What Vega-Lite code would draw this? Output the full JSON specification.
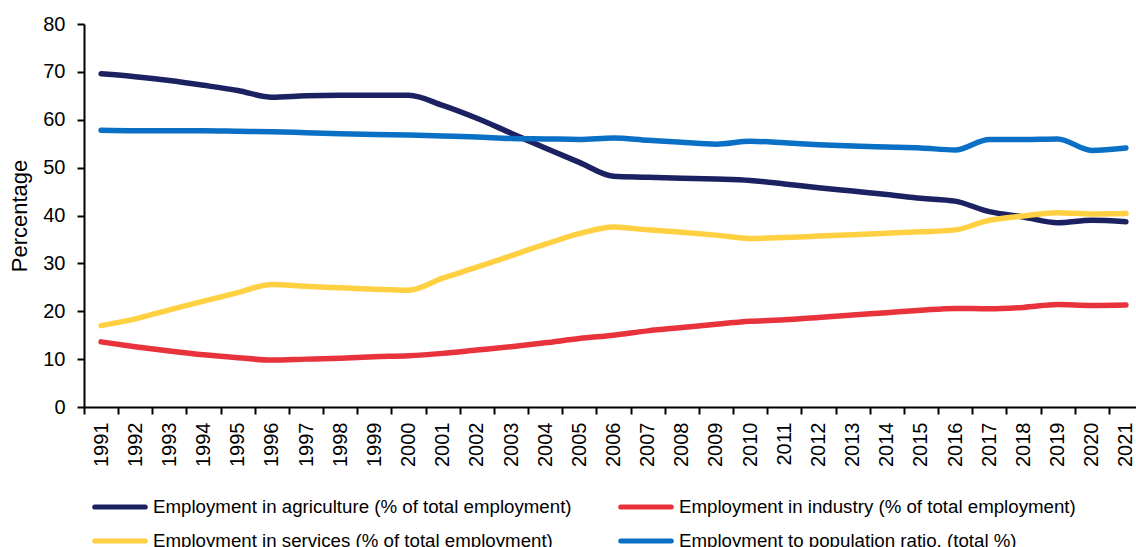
{
  "$schema": "https://vega.github.io/schema/vega-lite/v6.json",
  "autosize": "none",
  "width": 1059,
  "height": 383,
  "padding": {"left": 84, "top": 24, "right": 0, "bottom": 140},
  "background": "white",
  "config": {
    "view": {"stroke": null},
    "font": "Liberation Sans"
  },
  "data": {
    "values": [
      {"year": "1991", "a": 69.6, "i": 13.6, "s": 17.0, "r": 57.8},
      {"year": "1992", "a": 69.0, "i": 12.6, "s": 18.4, "r": 57.7},
      {"year": "1993", "a": 68.2, "i": 11.7, "s": 20.3, "r": 57.7},
      {"year": "1994", "a": 67.2, "i": 10.9, "s": 22.1, "r": 57.7},
      {"year": "1995", "a": 66.1, "i": 10.3, "s": 23.9, "r": 57.6},
      {"year": "1996", "a": 64.7, "i": 9.8, "s": 25.6, "r": 57.5},
      {"year": "1997", "a": 65.0, "i": 10.0, "s": 25.2, "r": 57.3},
      {"year": "1998", "a": 65.1, "i": 10.2, "s": 24.9, "r": 57.1},
      {"year": "1999", "a": 65.1, "i": 10.5, "s": 24.6, "r": 56.9},
      {"year": "2000", "a": 65.1, "i": 10.7, "s": 24.4, "r": 56.8},
      {"year": "2001", "a": 63.0, "i": 11.2, "s": 26.9, "r": 56.6},
      {"year": "2002", "a": 60.3, "i": 11.9, "s": 29.2, "r": 56.4},
      {"year": "2003", "a": 57.2, "i": 12.6, "s": 31.6, "r": 56.1},
      {"year": "2004", "a": 54.1, "i": 13.4, "s": 34.0, "r": 56.0},
      {"year": "2005", "a": 51.1, "i": 14.3, "s": 36.2, "r": 55.9},
      {"year": "2006", "a": 48.2, "i": 15.0, "s": 37.6, "r": 56.2},
      {"year": "2007", "a": 48.0, "i": 15.9, "s": 37.0, "r": 55.7},
      {"year": "2008", "a": 47.8, "i": 16.6, "s": 36.5, "r": 55.3},
      {"year": "2009", "a": 47.6, "i": 17.3, "s": 35.9, "r": 54.9},
      {"year": "2010", "a": 47.3, "i": 17.9, "s": 35.2, "r": 55.5},
      {"year": "2011", "a": 46.6, "i": 18.2, "s": 35.4, "r": 55.2},
      {"year": "2012", "a": 45.8, "i": 18.7, "s": 35.7, "r": 54.8},
      {"year": "2013", "a": 45.1, "i": 19.2, "s": 36.0, "r": 54.5},
      {"year": "2014", "a": 44.4, "i": 19.7, "s": 36.3, "r": 54.3},
      {"year": "2015", "a": 43.6, "i": 20.2, "s": 36.6, "r": 54.1},
      {"year": "2016", "a": 43.0, "i": 20.6, "s": 37.0, "r": 53.7},
      {"year": "2017", "a": 40.8, "i": 20.5, "s": 39.0, "r": 55.9},
      {"year": "2018", "a": 39.7, "i": 20.8, "s": 39.9, "r": 55.9},
      {"year": "2019", "a": 38.5, "i": 21.4, "s": 40.6, "r": 56.0},
      {"year": "2020", "a": 39.0, "i": 21.2, "s": 40.3, "r": 53.6},
      {"year": "2021", "a": 38.7, "i": 21.3, "s": 40.4, "r": 54.1}
    ]
  },
  "transform": [
    {"fold": ["a", "i", "s", "r"], "as": ["key", "value"]},
    {"lookup": "key", "from": {"data": {"values": [
      {"key": "a", "series": "Employment in agriculture (% of total employment)"},
      {"key": "i", "series": "Employment in industry (% of total employment)"},
      {"key": "s", "series": "Employment in services (% of total employment)"},
      {"key": "r", "series": "Employment to population ratio, (total %)"}
    ]}, "key": "key", "fields": ["series"]}}
  ],
  "mark": {"type": "line", "interpolate": "monotone", "strokeWidth": 5.5, "strokeCap": "round", "strokeJoin": "round"},
  "encoding": {
    "x": {
      "field": "year", "type": "ordinal", "bandPosition": 0.5,
      "scale": {"type": "band", "paddingInner": 0, "paddingOuter": 0},
      "axis": {
        "title": null, "labelAngle": 270, "labelAlign": "right", "labelBaseline": "middle",
        "labelFontSize": 20, "labelColor": "black", "labelPadding": 8,
        "tickBand": "extent", "tickSize": 7, "tickWidth": 2, "tickColor": "black",
        "domainColor": "black", "domainWidth": 2, "grid": false
      }
    },
    "y": {
      "field": "value", "type": "quantitative",
      "scale": {"domain": [0, 80], "nice": false},
      "axis": {
        "title": "Percentage", "titleFontSize": 22, "titleFontWeight": "normal", "titleColor": "black", "titlePadding": 11,
        "values": [0, 10, 20, 30, 40, 50, 60, 70, 80],
        "labelFontSize": 20, "labelColor": "black", "labelPadding": 12,
        "tickSize": 7, "tickWidth": 2, "tickColor": "black",
        "domainColor": "black", "domainWidth": 2, "grid": false
      }
    },
    "color": {
      "field": "series", "type": "nominal",
      "scale": {
        "domain": [
          "Employment in agriculture (% of total employment)",
          "Employment in industry (% of total employment)",
          "Employment in services (% of total employment)",
          "Employment to population ratio, (total %)"
        ],
        "range": ["#1b2161", "#e8333d", "#ffd042", "#0a70c5"]
      },
      "legend": {
        "title": null, "orient": "none", "legendX": 8, "legendY": 471,
        "direction": "horizontal", "columns": 2,
        "symbolType": "stroke", "symbolSize": 2560, "symbolStrokeWidth": 5,
        "labelFontSize": 18.7, "labelColor": "black", "labelOffset": 5, "labelLimit": 0,
        "clipHeight": 24,
        "columnPadding": 46, "rowPadding": 10, "padding": 0,
        "encode": {"symbols": {"update": {"strokeCap": {"value": "round"}}}}
      }
    }
  }
}
